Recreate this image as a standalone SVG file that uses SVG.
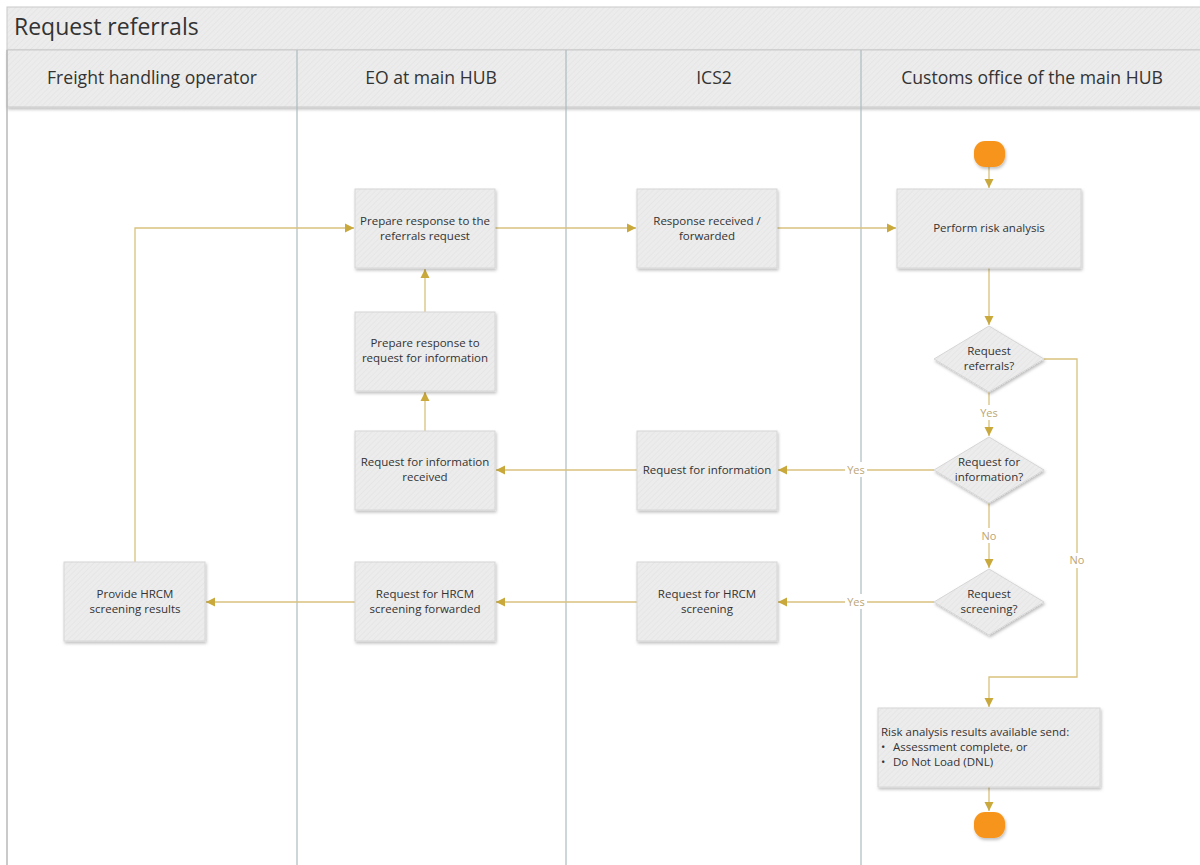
<svg xmlns="http://www.w3.org/2000/svg" width="1200" height="865" viewBox="0 0 1200 865">
<defs>
<pattern id="hatch" width="4" height="4" patternUnits="userSpaceOnUse" patternTransform="rotate(45)">
<rect width="4" height="4" fill="#ECECEC"/>
<line x1="0" y1="0" x2="0" y2="4" stroke="#E2E2E2" stroke-width="1.2"/>
</pattern>
<filter id="sh" x="-10%" y="-10%" width="125%" height="130%">
<feDropShadow dx="1" dy="2" stdDeviation="1.5" flood-color="#000" flood-opacity="0.25"/>
</filter>
<marker id="ar" markerWidth="10" markerHeight="10" refX="9" refY="5" orient="auto" markerUnits="userSpaceOnUse">
<path d="M0,0.5 L9,5 L0,9.5 Z" fill="#C9A83C"/>
</marker>
</defs>
<style>
.box{fill:url(#hatch);stroke:#D6D6D6;stroke-width:1;filter:url(#sh)}
.t{font-family:"Open Sans","Noto Sans",sans-serif;font-size:11.5px;fill:#333;text-anchor:middle}
.tl{font-family:"Open Sans","Noto Sans",sans-serif;font-size:11.5px;fill:#333}
.h{font-family:"Open Sans","Noto Sans",sans-serif;font-size:17.6px;fill:#333;text-anchor:middle}
.c{fill:none;stroke:#D9C27E;stroke-width:1.3}
.lbl{font-family:"Open Sans","Noto Sans",sans-serif;font-size:11px;fill:#B9A674;text-anchor:middle}
.term{fill:#F7941D;filter:url(#sh)}
.lane{stroke:#AEBDBD;stroke-width:1.2}
</style>
<rect width="1200" height="865" fill="#FFFFFF"/>
<g id="frame">
<rect x="7" y="7" width="1200" height="43" fill="url(#hatch)" stroke="#C9C9C9"/>
<text x="14" y="35" font-family="'Open Sans','Noto Sans',sans-serif" font-size="23" fill="#333">Request referrals</text>
<rect x="7" y="50" width="1200" height="57" fill="url(#hatch)" stroke="#C9C9C9" filter="url(#sh)"/>
<line x1="7" y1="50" x2="7" y2="865" stroke="#B8B8B8" stroke-width="1.5"/>
<line class="lane" x1="297" y1="50" x2="297" y2="865"/>
<line class="lane" x1="566" y1="50" x2="566" y2="865"/>
<line class="lane" x1="861" y1="50" x2="861" y2="865"/>
<text class="h" x="152" y="84">Freight handling operator</text>
<text class="h" x="431" y="84">EO at main HUB</text>
<text class="h" x="714" y="84">ICS2</text>
<text class="h" x="1032" y="84">Customs office of the main HUB</text>
</g>
<g id="connectors">
<path class="c" d="M989,167 V188" marker-end="url(#ar)"/>
<path class="c" d="M989,268 V325" marker-end="url(#ar)"/>
<path class="c" d="M989,392 V436" marker-end="url(#ar)"/>
<path class="c" d="M989,503 V568" marker-end="url(#ar)"/>
<path class="c" d="M1044,359 H1077 V677 H989 V707" marker-end="url(#ar)"/>
<path class="c" d="M934,470 H778" marker-end="url(#ar)"/>
<path class="c" d="M934,602 H778" marker-end="url(#ar)"/>
<path class="c" d="M637,470 H496" marker-end="url(#ar)"/>
<path class="c" d="M425,431 V392" marker-end="url(#ar)"/>
<path class="c" d="M425,312 V269" marker-end="url(#ar)"/>
<path class="c" d="M495,228 H636" marker-end="url(#ar)"/>
<path class="c" d="M777,228 H896" marker-end="url(#ar)"/>
<path class="c" d="M637,602 H496" marker-end="url(#ar)"/>
<path class="c" d="M355,602 H206" marker-end="url(#ar)"/>
<path class="c" d="M135,562 V228 H354" marker-end="url(#ar)"/>
<path class="c" d="M989,787 V811" marker-end="url(#ar)"/>
<rect x="976" y="405" width="26" height="15" fill="#FFF"/>
<text class="lbl" x="989" y="417">Yes</text>
<rect x="978" y="528" width="22" height="15" fill="#FFF"/>
<text class="lbl" x="989" y="540">No</text>
<rect x="1065" y="553" width="24" height="15" fill="#FFF"/>
<text class="lbl" x="1077" y="564">No</text>
<rect x="845" y="462" width="22" height="15" fill="#FFF"/>
<text class="lbl" x="856" y="474">Yes</text>
<rect x="845" y="594" width="22" height="15" fill="#FFF"/>
<text class="lbl" x="856" y="606">Yes</text>
</g>
<g id="start"><rect class="term" x="974" y="141" width="31" height="26" rx="11"/></g>
<g id="perform"><rect class="box" x="897" y="189" width="184" height="79"/><text class="t" x="989" y="232">Perform risk analysis</text></g>
<g id="prep-ref"><rect class="box" x="355" y="189" width="140" height="79"/><text class="t" x="425" y="225">Prepare response to the</text><text class="t" x="425" y="240">referrals request</text></g>
<g id="resp-recv"><rect class="box" x="637" y="189" width="140" height="79"/><text class="t" x="707" y="225">Response received /</text><text class="t" x="707" y="240">forwarded</text></g>
<g id="prep-rfi"><rect class="box" x="355" y="312" width="140" height="79"/><text class="t" x="425" y="347">Prepare response to</text><text class="t" x="425" y="362">request for information</text></g>
<g id="rfi-recv"><rect class="box" x="355" y="431" width="140" height="79"/><text class="t" x="425" y="466">Request for information</text><text class="t" x="425" y="481">received</text></g>
<g id="rfi"><rect class="box" x="637" y="431" width="140" height="79"/><text class="t" x="707" y="474">Request for information</text></g>
<g id="provide"><rect class="box" x="64" y="562" width="141" height="79"/><text class="t" x="135" y="598">Provide HRCM</text><text class="t" x="135" y="613">screening results</text></g>
<g id="hrcm-fwd"><rect class="box" x="355" y="562" width="140" height="79"/><text class="t" x="425" y="598">Request for HRCM</text><text class="t" x="425" y="613">screening forwarded</text></g>
<g id="hrcm"><rect class="box" x="637" y="562" width="140" height="79"/><text class="t" x="707" y="598">Request for HRCM</text><text class="t" x="707" y="613">screening</text></g>
<g id="d-ref"><path class="box" d="M989,326 L1044,359 L989,392 L934,359 Z"/><text class="t" x="989" y="355">Request</text><text class="t" x="989" y="370">referrals?</text></g>
<g id="d-rfi"><path class="box" d="M989,437 L1044,470 L989,503 L934,470 Z"/><text class="t" x="989" y="466">Request for</text><text class="t" x="989" y="481">information?</text></g>
<g id="d-scr"><path class="box" d="M989,569 L1044,602 L989,635 L934,602 Z"/><text class="t" x="989" y="598">Request</text><text class="t" x="989" y="613">screening?</text></g>
<g id="results"><rect class="box" x="878" y="708" width="222" height="79"/><text class="tl" x="881" y="736">Risk analysis results available send:</text><text class="tl" x="881" y="751">•</text><text class="tl" x="893" y="751">Assessment complete, or</text><text class="tl" x="881" y="766">•</text><text class="tl" x="893" y="766">Do Not Load (DNL)</text></g>
<g id="end"><rect class="term" x="974" y="812" width="31" height="26" rx="11"/></g>
</svg>
